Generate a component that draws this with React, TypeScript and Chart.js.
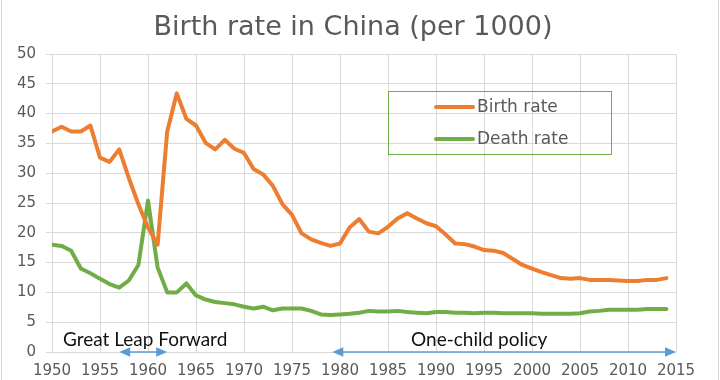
import React, { useEffect, useRef } from "react";
import { Chart, registerables } from "chart.js";

Chart.register(...registerables);

const chartTitle = "Birth rate in China (per 1000)";

const years = [
  1950, 1951, 1952, 1953, 1954, 1955, 1956, 1957, 1958, 1959,
  1960, 1961, 1962, 1963, 1964, 1965, 1966, 1967, 1968, 1969,
  1970, 1971, 1972, 1973, 1974, 1975, 1976, 1977, 1978, 1979,
  1980, 1981, 1982, 1983, 1984, 1985, 1986, 1987, 1988, 1989,
  1990, 1991, 1992, 1993, 1994, 1995, 1996, 1997, 1998, 1999,
  2000, 2001, 2002, 2003, 2004, 2005, 2006, 2007, 2008, 2009,
  2010, 2011, 2012, 2013, 2014,
];

const birthRate = [
  37.0, 37.8, 37.0, 37.0, 38.0, 32.6, 31.9, 34.0, 29.2, 24.8,
  20.9, 18.0, 37.0, 43.4, 39.1, 38.0, 35.1, 34.0, 35.6, 34.1,
  33.4, 30.7, 29.8, 27.9, 24.8, 23.0, 19.9, 18.9, 18.3, 17.8,
  18.2, 20.9, 22.3, 20.2, 19.9, 21.0, 22.4, 23.3, 22.4, 21.6,
  21.1, 19.7, 18.2, 18.1, 17.7, 17.1, 17.0, 16.6, 15.6, 14.6,
  14.0, 13.4, 12.9, 12.4, 12.3, 12.4, 12.1, 12.1, 12.1, 12.0,
  11.9, 11.9, 12.1, 12.1, 12.4,
];

const deathRate = [
  18.0, 17.8, 17.0, 14.0, 13.2, 12.3, 11.4, 10.8, 12.0, 14.6,
  25.4, 14.2, 10.0, 10.0, 11.5, 9.5, 8.8, 8.4, 8.2, 8.0,
  7.6, 7.3, 7.6, 7.0, 7.3, 7.3, 7.3, 6.9, 6.3, 6.2,
  6.3, 6.4, 6.6, 6.9, 6.8, 6.8, 6.9, 6.7, 6.6, 6.5,
  6.7, 6.7, 6.6, 6.6, 6.5, 6.6, 6.6, 6.5, 6.5, 6.5,
  6.5, 6.4, 6.4, 6.4, 6.4, 6.5, 6.8, 6.9, 7.1, 7.1,
  7.1, 7.1, 7.2, 7.2, 7.2,
];

const seriesNames = ["Birth rate", "Death rate"];
const seriesColors = ["#ED7D31", "#70AD47"];

const periodLabels = ["Great Leap Forward", "One-child policy"];
const periodStart = [1957, 1979.2];
const periodEnd = [1962, 2015];
const periodLabelCenter = [1959.7, 1994.5];

const TEXT_GRAY = "#595959";
const GRID = "#D9D9D9";
const ARROW = "#5B9BD5";

function arrowHead(ctx: CanvasRenderingContext2D, tipX: number, y: number, dir: number) {
  const len = 11;
  const half = 4.8;
  ctx.beginPath();
  ctx.moveTo(tipX, y);
  ctx.lineTo(tipX - dir * len, y - half);
  ctx.lineTo(tipX - dir * len, y + half);
  ctx.closePath();
  ctx.fill();
}

const decorPlugin = {
  id: "decor",
  afterDraw(chart: any) {
    const ctx: CanvasRenderingContext2D = chart.ctx;
    const xs = chart.scales.x;
    const ys = chart.scales.y;
    ctx.save();

    // outer frame side lines
    ctx.strokeStyle = GRID;
    ctx.lineWidth = 1;
    ctx.beginPath();
    ctx.moveTo(1.5, 0);
    ctx.lineTo(1.5, 380);
    ctx.moveTo(718.5, 0);
    ctx.lineTo(718.5, 380);
    ctx.stroke();

    // title
    ctx.fillStyle = TEXT_GRAY;
    ctx.font = "27px 'DejaVu Sans'";
    ctx.textAlign = "center";
    ctx.textBaseline = "alphabetic";
    ctx.fillText(chartTitle, 353, 35);

    // legend
    ctx.strokeStyle = "#70AD47";
    ctx.lineWidth = 1;
    ctx.strokeRect(388.5, 91.5, 223, 63);
    const rows = [107, 139];
    chart.data.datasets.forEach((ds: any, i: number) => {
      ctx.strokeStyle = ds.borderColor;
      ctx.lineWidth = 4;
      ctx.lineCap = "round";
      ctx.beginPath();
      ctx.moveTo(436, rows[i]);
      ctx.lineTo(473, rows[i]);
      ctx.stroke();
      ctx.fillStyle = TEXT_GRAY;
      ctx.font = "17px 'DejaVu Sans'";
      ctx.textAlign = "left";
      ctx.textBaseline = "middle";
      ctx.fillText(ds.label, 477, rows[i] + 1);
    });

    // period annotations
    const y0 = ys.getPixelForValue(0);
    ctx.lineCap = "butt";
    periodLabels.forEach((label, i) => {
      const x1 = xs.getPixelForValue(periodStart[i]);
      const x2 = xs.getPixelForValue(periodEnd[i]);
      ctx.strokeStyle = ARROW;
      ctx.fillStyle = ARROW;
      ctx.lineWidth = 1.5;
      ctx.beginPath();
      ctx.moveTo(x1 + 8, y0);
      ctx.lineTo(x2 - 8, y0);
      ctx.stroke();
      arrowHead(ctx, x1, y0, -1);
      arrowHead(ctx, x2, y0, 1);

      ctx.fillStyle = "#111111";
      ctx.font = "19px Lato";
      ctx.textAlign = "center";
      ctx.textBaseline = "alphabetic";
      ctx.fillText(label, xs.getPixelForValue(periodLabelCenter[i]), 345.5);
    });

    ctx.restore();
  },
};

export default function App() {
  const canvasRef = useRef<HTMLCanvasElement | null>(null);

  useEffect(() => {
    document.body.style.margin = "0";
    const canvas = canvasRef.current;
    if (!canvas) return;
    const chart = new Chart(canvas, {
      type: "line",
      data: {
        datasets: [birthRate, deathRate].map((vals, i) => ({
          label: seriesNames[i],
          data: years.map((yr, j) => ({ x: yr, y: vals[j] })),
          borderColor: seriesColors[i],
          backgroundColor: seriesColors[i],
          borderWidth: 4,
          pointRadius: 0,
          tension: 0,
          borderJoinStyle: "round" as const,
          borderCapStyle: "round" as const,
        })),
      },
      options: {
        animation: false,
        responsive: false,
        devicePixelRatio: 1,
        layout: { padding: { top: 54, right: 44, left: 0, bottom: 0 } },
        plugins: {
          legend: { display: false },
          title: { display: false },
          tooltip: { enabled: false },
        },
        scales: {
          x: {
            type: "linear",
            min: 1950,
            max: 2015,
            ticks: {
              stepSize: 5,
              color: TEXT_GRAY,
              font: { family: "'DejaVu Sans'", size: 15 },
              padding: 10,
              maxRotation: 0,
              autoSkip: false,
              callback: (v: any) => String(v),
            },
            grid: { color: GRID, drawTicks: false, lineWidth: 1 },
            border: { display: false },
            afterFit: (scale: any) => {
              scale.height = 28;
            },
          },
          y: {
            type: "linear",
            min: 0,
            max: 50,
            ticks: {
              stepSize: 5,
              color: TEXT_GRAY,
              font: { family: "'DejaVu Sans'", size: 15 },
              padding: 10,
            },
            grid: { color: GRID, drawTicks: true, tickLength: 6, lineWidth: 1 },
            border: { display: false },
            afterFit: (scale: any) => {
              scale.width = 52;
            },
          },
        },
      },
      plugins: [decorPlugin],
    });
    return () => chart.destroy();
  }, []);

  return (
    <div style={{ position: "absolute", left: 0, top: 0, width: 720, height: 380, background: "#fff" }}>
      <canvas ref={canvasRef} width={720} height={380} style={{ display: "block", width: 720, height: 380 }} />
    </div>
  );
}
